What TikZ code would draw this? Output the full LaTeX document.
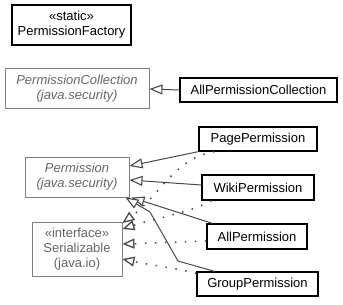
\documentclass[tikz,border=0pt]{standalone}
\usepackage{fontspec}
\setmainfont{Liberation Sans}
\usetikzlibrary{arrows.meta}
\definecolor{extline}{HTML}{808080}
\definecolor{exttext}{HTML}{666666}
\definecolor{edgecol}{HTML}{484848}
\begin{document}
\begin{tikzpicture}[x=1pt,y=-1pt,
  cls/.style={draw=black, line width=1.3pt, fill=white, text=black, align=center,
    inner sep=0pt, font=\fontsize{13}{15}\selectfont},
  extcls/.style={draw=extline, line width=1pt, fill=white, text=exttext, align=center,
    inner sep=0pt, font=\fontsize{13}{15}\selectfont},
  sz/.style 2 args={minimum width=#1pt, minimum height=#2pt},
  gen/.style={draw=edgecol, line width=1pt,
    -{Triangle[fill=white, length=13pt, width=10pt, line width=1.1pt]}},
  real/.style={draw=edgecol, line width=1.5pt, dash pattern=on 1.5pt off 8.5pt,
    -{Triangle[fill=white, length=12pt, width=10pt, line width=1.3pt]}}
]
\useasboundingbox (0,0) rectangle (343,305);

% classes
\node[cls, sz={119}{40}] (fac) at (71.5,25) {«static»\\PermissionFactory};
\node[extcls, sz={144}{40}] (pcol) at (77,89) {\itshape PermissionCollection\\\itshape (java.security)};
\node[cls, sz={157}{24}] (apc) at (258.5,90) {AllPermissionCollection};
\node[extcls, sz={104}{40}] (perm) at (77,177) {\itshape Permission\\\itshape (java.security)};
\node[extcls, sz={90}{54}] (ser) at (77,249) {«interface»\\Serializable\\(java.io)};
\node[cls, sz={118}{24}] (page) at (258,139) {PagePermission};
\node[cls, sz={112}{25}] (wiki) at (258,187.5) {WikiPermission};
\node[cls, sz={100}{25}] (allp) at (257,236.5) {AllPermission};
\node[cls, sz={121}{24}] (grp) at (257.5,284) {GroupPermission};

% bend points of the GroupPermission generalisation
\coordinate (gb1) at (178,261);
\coordinate (gb2) at (150,212);

% generalisations
\draw[gen] (apc.west) -- (pcol.east);
\draw[gen] (page.south west) -- ([yshift=11pt]perm.east);
\draw[gen] ([yshift=2.5pt]wiki.west) -- ([yshift=-3pt]perm.east);
\draw[gen] ([xshift=6pt]allp.north west) -- ([xshift=2pt]perm.south east);
\draw[gen] ([xshift=18pt]grp.north west) -- (gb1) -- (gb2) -- ([xshift=-4pt]perm.south east);

% realisations of Serializable
\draw[real] ([xshift=16pt]page.south west) .. controls (175,158) and (160,195) .. ([yshift=26pt]ser.east);
\draw[real] ([xshift=10pt]wiki.south west) .. controls (195,211) and (150,220) .. ([yshift=20pt]ser.east);
\draw[real] ([yshift=-4.5pt]allp.west) -- ([yshift=5pt]ser.east);
\draw[real] ([yshift=-2pt]grp.north west) .. controls (175,268) and (150,265) .. ([yshift=-10pt]ser.east);
\end{tikzpicture}
\end{document}
